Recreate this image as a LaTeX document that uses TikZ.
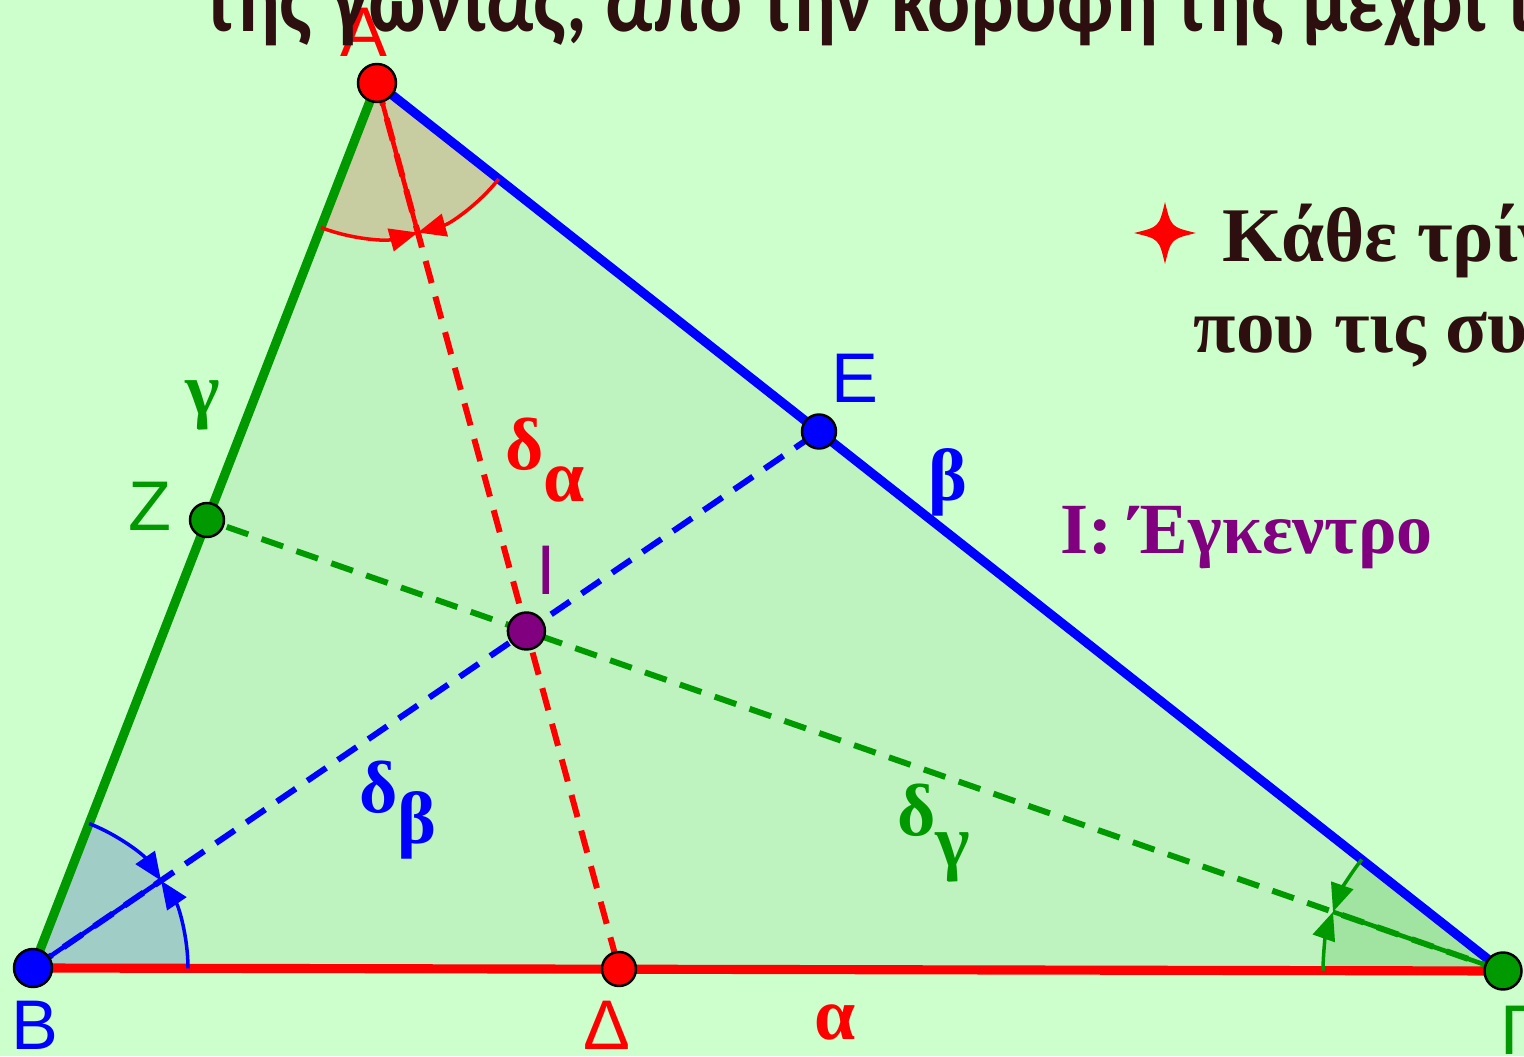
\documentclass[tikz,border=0pt]{standalone}
\usepackage{fontspec}
\setmainfont{Liberation Serif}
\newfontfamily\ptfont{Liberation Sans}
\newfontfamily\headfont{Carlito}
\usetikzlibrary{arrows.meta, calc}
\definecolor{bggreen}{RGB}{204,255,204}
\definecolor{trigreen}{RGB}{190,242,190}
\definecolor{ggbgreen}{RGB}{0,153,0}
\definecolor{ggbblue}{RGB}{0,0,255}
\definecolor{ggbred}{RGB}{255,0,0}
\definecolor{ggbpurple}{RGB}{128,0,128}
\definecolor{darkbrown}{RGB}{45,15,15}

\begin{document}
\begin{tikzpicture}[
        side/.style={line width=2.6pt},
        bisector/.style={line width=1.7pt, dash pattern=on 6.5pt off 4pt},
        anglemark/.style={line width=1pt, -{Triangle[length=8pt, width=6.5pt]}},
        pt/.style={circle, draw=black, line width=0.7pt, inner sep=0pt, minimum size=0.34cm},
        ptlabel/.style={inner sep=0pt, font=\ptfont\fontsize{20}{24}\selectfont},
        greeklabel/.style={font=\bfseries\fontsize{21}{25}\selectfont},
        headtext/.style={text=darkbrown, inner sep=0pt, anchor=base west}
    ]
    \useasboundingbox (0,0) rectangle (15.24,10.56);
    \clip (0,0) rectangle (15.24,10.56);
    \fill[bggreen] (0,0) rectangle (15.24,10.56);

    % vertices, feet of the bisectors, incentre
    \coordinate (A) at (3.77,9.73);
    \coordinate (B) at (0.33,0.88);
    \coordinate (G) at (15.03,0.85);
    \coordinate (D) at (6.19,0.87);
    \coordinate (E) at (8.19,6.245);
    \coordinate (Z) at (2.07,5.36);
    \coordinate (I) at (5.264,4.25);

    \fill[trigreen] (A) -- (B) -- (G) -- cycle;

    % angle sectors
    \fill[ggbred, opacity=0.15] (A) -- ++(248.76:1.55) arc[start angle=248.76, end angle=321.74, radius=1.55] -- cycle;
    \fill[ggbblue, opacity=0.15] (B) -- ++(-0.12:1.55) arc[start angle=-0.12, end angle=68.76, radius=1.55] -- cycle;
    \fill[ggbgreen, opacity=0.15] (G) -- ++(141.74:1.8) arc[start angle=141.74, end angle=179.88, radius=1.8] -- cycle;

    % sides
    \draw[side, ggbgreen] (A) -- (B);
    \draw[side, ggbblue] (A) -- (G);
    \draw[side, ggbred] (B) -- (G);

    % bisectors
    \draw[bisector, ggbred] (A) -- (D);
    \draw[bisector, ggbblue] (B) -- (E);
    \draw[bisector, ggbgreen] (G) -- (Z);
    \draw[ggbred, line width=1.3pt] (A) -- ++(285.25:1.55);
    \draw[ggbblue, line width=1.3pt] (B) -- ++(34.32:1.55);
    \draw[ggbgreen, line width=1.3pt] (G) -- ++(160.81:1.8);

    % half-angle arcs
    \draw[anglemark, ggbred] (A) ++(248.76:1.55) arc[start angle=248.76, end angle=285.25, radius=1.55];
    \draw[anglemark, ggbred] (A) ++(321.74:1.55) arc[start angle=321.74, end angle=285.25, radius=1.55];
    \draw[anglemark, ggbblue] (B) ++(68.76:1.55) arc[start angle=68.76, end angle=34.32, radius=1.55];
    \draw[anglemark, ggbblue] (B) ++(-0.12:1.55) arc[start angle=-0.12, end angle=34.32, radius=1.55];
    \draw[anglemark, ggbgreen] (G) ++(141.74:1.8) arc[start angle=141.74, end angle=160.81, radius=1.8];
    \draw[anglemark, ggbgreen] (G) ++(179.88:1.8) arc[start angle=179.88, end angle=160.81, radius=1.8];

    % points
    \node[pt, fill=ggbred, minimum size=0.38cm] (pA) at (A) {};
    \node[pt, fill=ggbblue, minimum size=0.38cm] (pB) at (B) {};
    \node[pt, fill=ggbgreen, minimum size=0.37cm] (pG) at (G) {};
    \node[pt, fill=ggbred] (pD) at (D) {};
    \node[pt, fill=ggbblue] (pE) at (E) {};
    \node[pt, fill=ggbgreen] (pZ) at (Z) {};
    \node[pt, fill=ggbpurple, minimum size=0.37cm] (pI) at (I) {};

    % point labels
    \node[ptlabel, ggbred] (lA) at (3.64,10.24) {A};
    \node[ptlabel, ggbblue] (lB) at (0.35,0.31) {B};
    \node[ptlabel, ggbgreen] (lG) at (15.20,0.26) {Γ};
    \node[ptlabel, ggbred] (lD) at (6.07,0.31) {Δ};
    \node[ptlabel, ggbblue] (lE) at (8.55,6.78) {E};
    \node[ptlabel, ggbgreen] (lZ) at (1.50,5.50) {Z};
    \node[ptlabel, ggbpurple] (lI) at (5.46,4.86) {I};

    % side and bisector labels
    \node[greeklabel, ggbgreen] (lc) at (2.03,6.51) {γ};
    \node[greeklabel, ggbblue] (lb) at (9.48,5.74) {β};
    \node[greeklabel, ggbred] (la) at (8.35,0.34) {α};
    \node[greeklabel, ggbred] (lda) at (5.45,5.96) {δ\raisebox{-0.43em}{α}};
    \node[greeklabel, ggbblue] (ldb) at (3.98,2.46) {δ\raisebox{-0.43em}{β}};
    \node[greeklabel, ggbgreen] (ldg) at (9.34,2.23) {δ\raisebox{-0.43em}{γ}};
    \node[anchor=base west, inner sep=0pt, text=ggbpurple, font=\bfseries\fontsize{20.5}{24}\selectfont] (incentre) at (10.60,5.03) {I: Έγκεντρο};

    % text around the figure
    \node[headtext, xscale=0.88, font=\headfont\bfseries\fontsize{26}{30}\selectfont] (head) at (2.04,10.24) {της γωνίας, από την κορυφή της μέχρι τ};
    \node[headtext, font=\bfseries\fontsize{22}{26}\selectfont] (every) at (12.22,7.94) {Κάθε τρίγ};
    \node[headtext, font=\bfseries\fontsize{22}{26}\selectfont] (meet) at (11.93,7.03) {που τις συ};
    \fill[ggbred] (11.65,8.54) .. controls (11.71,8.29) .. (11.96,8.23) .. controls (11.71,8.17) .. (11.65,7.92) .. controls (11.59,8.17) .. (11.34,8.23) .. controls (11.59,8.29) .. (11.65,8.54);
\end{tikzpicture}
\end{document}
